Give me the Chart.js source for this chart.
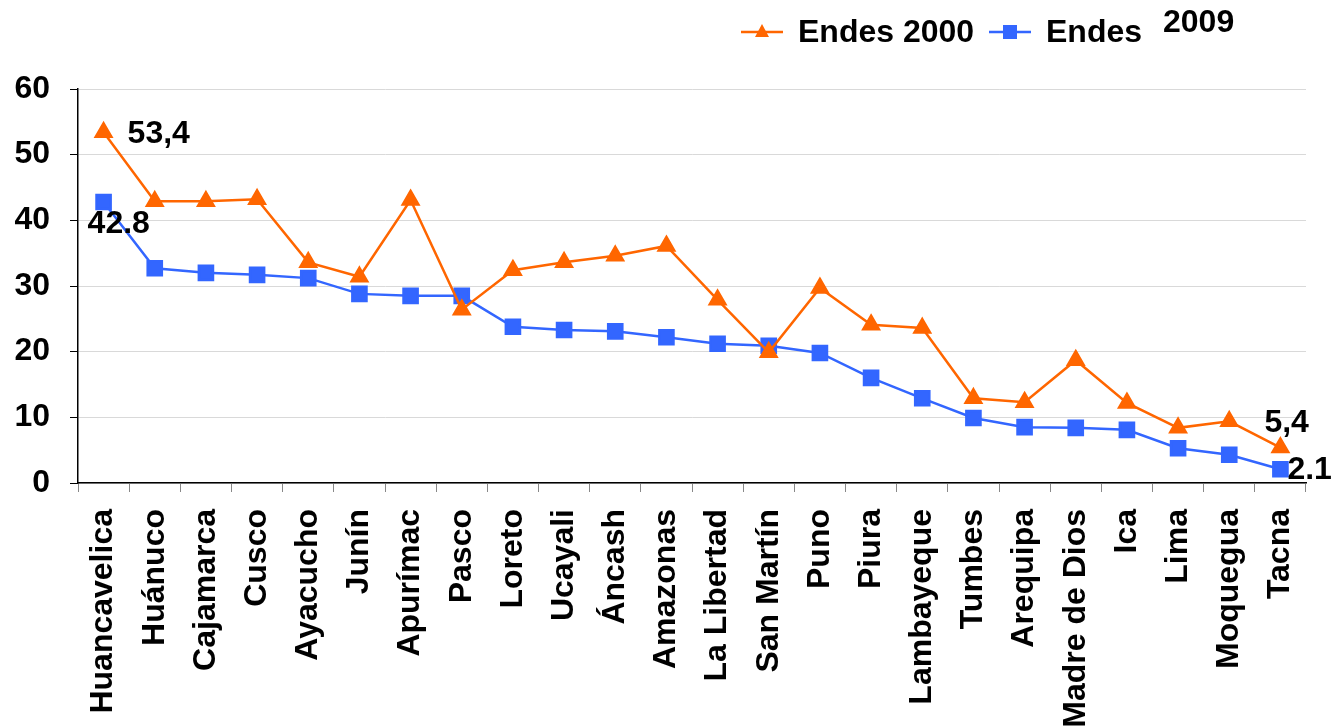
<!DOCTYPE html>
<html>
<head>
<meta charset="utf-8">
<script src="https://cdn.jsdelivr.net/npm/chart.js@4.4.1/dist/chart.umd.min.js"></script>
<style>
  html, body { margin: 0; padding: 0; background: #fff; }
  #wrap { width: 1331px; height: 728px; position: relative; }
</style>
</head>
<body>
<div id="wrap"><canvas id="chart"></canvas></div>
<script>
  // regions, sorted as in the original chart
  const regions = ['Huancavelica', 'Huánuco', 'Cajamarca', 'Cusco', 'Ayacucho', 'Junín', 'Apurímac', 'Pasco',
    'Loreto', 'Ucayali', 'Áncash', 'Amazonas', 'La Libertad', 'San Martín', 'Puno', 'Piura', 'Lambayeque',
    'Tumbes', 'Arequipa', 'Madre de Dios', 'Ica', 'Lima', 'Moquegua', 'Tacna'];

  const endes2000 = [53.4, 42.9, 42.9, 43.2, 33.6, 31.4, 43.1, 26.4, 32.4, 33.6, 34.6, 36.1,
    27.9, 19.9, 29.7, 24.1, 23.6, 12.9, 12.3, 18.7, 12.2, 8.4, 9.4, 5.4];

  const endes2009 = [42.8, 32.7, 32.0, 31.7, 31.2, 28.8, 28.5, 28.5, 23.8, 23.3, 23.1, 22.2,
    21.2, 20.9, 19.8, 16.0, 12.9, 9.9, 8.5, 8.4, 8.1, 5.3, 4.3, 2.1];

  const yTicks = [0, 10, 20, 30, 40, 50, 60];

  const ORANGE = '#ff6600';
  const BLUE = '#3366ff';
  const FAMILY = '"Liberation Sans", Arial, sans-serif';
  const FONT = 'bold 32px ' + FAMILY;

  // value labels: [dataset, index, text, dx, dy]
  const callouts = [
    [0, 0, '53,4', 24, 2],
    [1, 0, '42.8', -16, 22],
    [0, 23, '5,4', -16, -24],
    [1, 23, '2.1', 7, 1]
  ];

  const calloutPlugin = {
    id: 'callouts',
    afterDatasetsDraw(chart) {
      const ctx = chart.ctx;
      ctx.save();
      ctx.font = FONT;
      ctx.fillStyle = '#000';
      ctx.textBaseline = 'middle';
      ctx.textAlign = 'left';
      callouts.forEach(([ds, i, txt, dx, dy]) => {
        const pt = chart.getDatasetMeta(ds).data[i];
        ctx.fillText(txt, pt.x + dx, pt.y + dy);
      });
      ctx.restore();
    }
  };

  // legend drawn by hand: line + marker, then the label
  const legendPlugin = {
    id: 'handLegend',
    afterDraw(chart) {
      const ctx = chart.ctx;
      ctx.save();
      ctx.lineWidth = 2.5;
      // Endes 2000
      ctx.strokeStyle = ORANGE;
      ctx.beginPath(); ctx.moveTo(741, 32); ctx.lineTo(783, 32); ctx.stroke();
      ctx.fillStyle = ORANGE;
      ctx.beginPath(); ctx.moveTo(762, 24); ctx.lineTo(769, 37); ctx.lineTo(755, 37); ctx.closePath(); ctx.fill();
      // Endes
      ctx.strokeStyle = BLUE;
      ctx.beginPath(); ctx.moveTo(989, 32); ctx.lineTo(1031, 32); ctx.stroke();
      ctx.fillStyle = BLUE;
      ctx.fillRect(1003, 25, 14, 14);

      ctx.fillStyle = '#000';
      ctx.font = FONT;
      ctx.textBaseline = 'middle';
      ctx.fillText('Endes 2000', 798, 33);
      ctx.fillText('Endes', 1046, 33);
      ctx.fillText('2009', 1163, 23);
      ctx.restore();
    }
  };

  new Chart(document.getElementById('chart'), {
    type: 'line',
    data: {
      labels: regions,
      datasets: [{
        label: 'Endes 2000',
        data: endes2000,
        borderColor: ORANGE,
        backgroundColor: ORANGE,
        borderWidth: 2.5,
        pointStyle: 'triangle',
        pointRadius: 9,
        pointHoverRadius: 9,
        tension: 0
      }, {
        label: 'Endes 2009',
        data: endes2009,
        borderColor: BLUE,
        backgroundColor: BLUE,
        borderWidth: 2.5,
        pointStyle: 'rect',
        pointRadius: 10,
        pointHoverRadius: 10,
        tension: 0
      }]
    },
    options: {
      responsive: true,
      maintainAspectRatio: false,
      animation: false,
      layout: { padding: { top: 89, right: 25, left: 0, bottom: 0 } },
      plugins: {
        legend: { display: false },
        tooltip: { enabled: false }
      },
      scales: {
        x: {
          offset: true,
          afterFit: s => { s.height = 245; s.paddingLeft = 0; s.paddingRight = 0; },
          grid: {
            offset: true,
            drawOnChartArea: false,
            color: '#888',
            tickLength: 9
          },
          border: { color: '#000', width: 1.5 },
          ticks: {
            color: '#000',
            font: { family: FAMILY, size: 32, weight: 'bold' },
            minRotation: 90,
            maxRotation: 90,
            autoSkip: false,
            padding: 17
          }
        },
        y: {
          min: 0,
          max: 60,
          afterFit: s => { s.width = 78; },
          afterBuildTicks: s => { s.ticks = yTicks.map(v => ({ value: v })); },
          grid: {
            color: '#d9d9d9',
            tickColor: '#000',
            tickLength: 8
          },
          border: { color: '#000', width: 1.5 },
          ticks: {
            color: '#000',
            font: { family: FAMILY, size: 32, weight: 'bold' },
            padding: 20
          }
        }
      }
    },
    plugins: [calloutPlugin, legendPlugin]
  });
</script>
</body>
</html>
